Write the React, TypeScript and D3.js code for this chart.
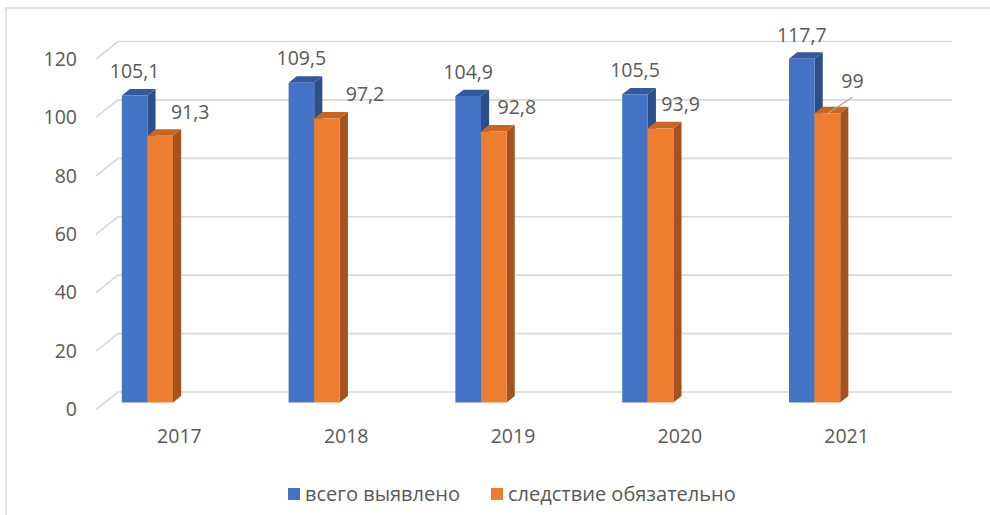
import React, { useEffect, useRef } from "react";
import * as d3 from "d3";

const years = ["2017", "2018", "2019", "2020", "2021"];
const totalDetected = [105.1, 109.5, 104.9, 105.5, 117.7];
const investigationRequired = [91.3, 97.2, 92.8, 93.9, 99];
const yTicks = [0, 20, 40, 60, 80, 100, 120];
const seriesNames = ["всего выявлено", "следствие обязательно"];

// manual label nudges (the source chart had hand-moved labels)
const orangeLabelDx = [30, 38, 23, 20, 25];
const orangeLabelDy = [0, 0, 0, 0, -8];

const W = 990;
const H = 515;
const FONT = "'Open Sans', 'Noto Sans', sans-serif";
const TXT = "#595959";
const GRID = "#d9d9d9";
const FS = 19.5;

export default function App() {
  const ref = useRef<SVGSVGElement>(null);

  useEffect(() => {
    const svg = d3.select(ref.current);
    svg.selectAll("*").remove();

    // chart area frame
    svg.append("rect").attr("x", 6).attr("y", 8).attr("width", 1000).attr("height", 600)
      .attr("fill", "#fff").attr("stroke", GRID).attr("stroke-width", 1.5);

    const x = d3.scaleBand().domain(years).range([96, 930]);
    const y = d3.scaleLinear().domain([0, 120]).range([409.5, 59]);
    const bw = x.bandwidth();

    // depth projection: t = 0 front of floor, t = 1 back wall
    const ddx = 22, ddy = -17.5;
    const P = (px: number, py: number, t: number): [number, number] => [px + ddx * t, py + ddy * t];

    const grid = svg.append("g").attr("stroke", GRID).attr("stroke-width", 1.6).attr("fill", "none");
    yTicks.forEach(v => {
      const f = P(96, y(v), 0);
      const b = P(96, y(v), 1);
      const r = P(930, y(v), 1);
      grid.append("path").attr("d", `M${f[0]},${f[1]}L${b[0]},${b[1]}L${r[0]},${r[1]}`);
    });

    // y tick labels
    svg.append("g").selectAll("text").data(yTicks).enter().append("text")
      .attr("x", 77).attr("y", d => y(d)).attr("dy", "0.35em")
      .attr("text-anchor", "end").attr("font-family", FONT).attr("font-size", FS).attr("fill", TXT)
      .text(d => d);

    // category labels
    svg.append("g").selectAll("text").data(years).enter().append("text")
      .attr("x", d => (x(d) as number) + bw / 2).attr("y", 436).attr("dy", "0.35em")
      .attr("text-anchor", "middle").attr("font-family", FONT).attr("font-size", FS).attr("fill", TXT)
      .text(d => d);

    const tFront = 0.4, tBack = 0.77;
    const barW = 25.6;
    const inset = 17;

    const drawBar = (g: any, left: number, v: number, cols: string[]) => {
      const right = left + barW;
      const bl = P(left, y(0), tFront), tl = P(left, y(v), tFront), tr = P(right, y(v), tFront), br = P(right, y(0), tFront);
      const tl2 = P(left, y(v), tBack), tr2 = P(right, y(v), tBack), br2 = P(right, y(0), tBack);
      const pts = (a: [number, number][]) => a.map(p => p.join(",")).join(" ");
      g.append("polygon").attr("points", pts([br, tr, tr2, br2])).attr("fill", cols[1]);
      g.append("polygon").attr("points", pts([tl, tl2, tr2, tr])).attr("fill", cols[2]);
      g.append("polygon").attr("points", pts([bl, tl, tr, br])).attr("fill", cols[0]);
    };

    const blue = ["#4472c4", "#2c4e8b", "#33599f"];
    const orange = ["#ed7d31", "#a5531e", "#c86522"];
    const bars = svg.append("g");
    years.forEach((yr, i) => {
      const left = (x(yr) as number) + inset;
      drawBar(bars, left, totalDetected[i], blue);
      drawBar(bars, left + barW, investigationRequired[i], orange);
    });

    // value labels
    const labels = svg.append("g").attr("font-family", FONT).attr("font-size", FS).attr("fill", TXT).attr("text-anchor", "middle");
    const fmt = (v: number) => String(v).replace(".", ",");
    years.forEach((yr, i) => {
      const left = (x(yr) as number) + inset;
      const bTop = P(left, y(totalDetected[i]), tFront);
      labels.append("text").attr("x", bTop[0] + barW / 2).attr("y", bTop[1] - 24).attr("dy", "0.35em")
        .text(fmt(totalDetected[i]));
      const oTop = P(left + barW, y(investigationRequired[i]), tFront);
      const lx = oTop[0] + barW / 2 + orangeLabelDx[i];
      const ly = oTop[1] - 24 + orangeLabelDy[i];
      labels.append("text").attr("x", lx).attr("y", ly).attr("dy", "0.35em")
        .text(fmt(investigationRequired[i]));
      if (orangeLabelDy[i] !== 0) {
        svg.append("line").attr("x1", oTop[0] + barW / 2 - 1).attr("y1", oTop[1] + 1)
          .attr("x2", lx).attr("y2", ly + 16).attr("stroke", "#a6a6a6").attr("stroke-width", 1.2);
      }
    });

    // legend
    const legend = svg.append("g").attr("font-family", FONT).attr("font-size", 20).attr("fill", TXT);
    const legendX = [288, 491];
    seriesNames.forEach((name, i) => {
      legend.append("rect").attr("x", legendX[i]).attr("y", 488).attr("width", 12).attr("height", 12)
        .attr("fill", i === 0 ? blue[0] : orange[0]);
      legend.append("text").attr("x", legendX[i] + 17).attr("y", 494).attr("dy", "0.35em").text(name);
    });
  }, []);

  return (
    <div style={{ position: "absolute", left: 0, top: 0 }}>
      <svg ref={ref} width={W} height={H} style={{ display: "block" }} />
    </div>
  );
}
